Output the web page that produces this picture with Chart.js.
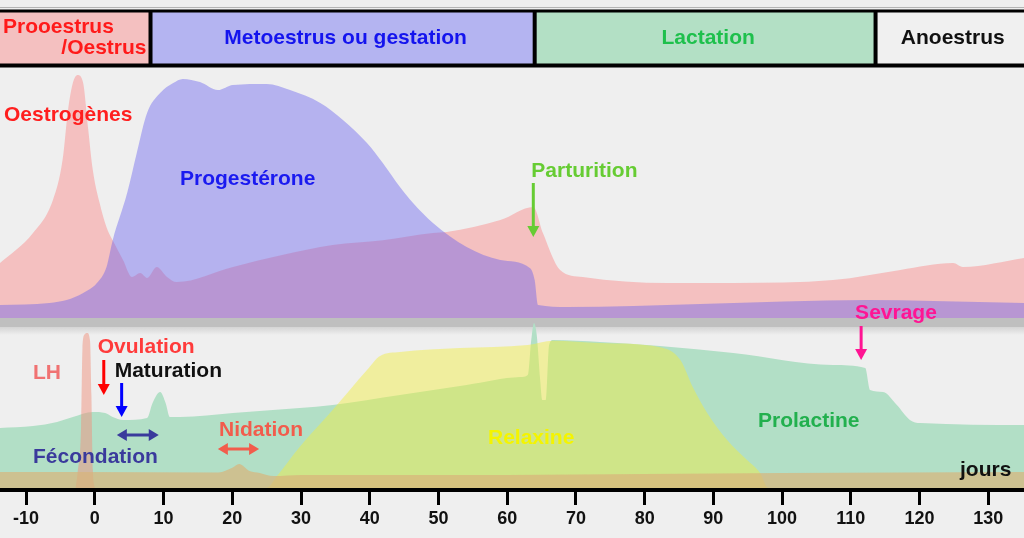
<!DOCTYPE html>
<html>
<head>
<meta charset="utf-8">
<script src="https://cdn.jsdelivr.net/npm/chart.js@4/dist/chart.umd.min.js"></script>
<style>
  html, body { margin: 0; padding: 0; background: #efefef; }
  canvas { display: block; }
</style>
</head>
<body>
<canvas id="cycle" width="1024" height="538"></canvas>
<script>
// phases (header band), in days
const phaseBounds = [-13.8, 8.1, 64.0, 113.6, 135.2];
const phaseFills = ['#f4c0c0', '#b4b4f1', '#b3e0c5', '#f0f0f0'];
const phaseInk = ['#ff1a1a', '#1414ee', '#1ec04c', '#111111'];
const phaseNames = [['Prooestrus', '/Oestrus'], ['Metoestrus ou gestation'], ['Lactation'], ['Anoestrus']];

// upper panel: oestrogènes / progestérone (relative level 0-100)
const oestroDays = [-13.8, -9, -6.1, -4.7, -3.9, -3.2, -2.5, -1.7, -1, -0.3, 0.7, 1.7, 2.6, 4.1, 5.4, 6.6, 7.6, 9, 10.5, 11.9,
  20.1, 27.4, 34.6, 41.9, 49.2, 51.2, 59, 63.8, 65.2, 67.7, 71, 83.3, 92.9, 107.4, 117.2, 124.9, 126.3, 135.2];
const oestroVals = [22.6, 35, 48.6, 65, 85.6, 96.7, 100, 96.7, 78.6, 61, 47.3, 37.4, 32, 23.9, 16.9, 18.5, 16.5, 21, 16.9, 14.8,
  21, 26, 30, 32, 35, 35.4, 40.3, 45.7, 35, 19.8, 16.9, 14.4, 14.4, 15.6, 19.8, 22.6, 21, 24.7];

const progDays = [-13.8, -6.6, -4.1, -1.7, 0.3, 1.7, 2.6, 4.7, 6.1, 7.6, 9.5, 11.4, 12.8, 15.3, 17.9, 20.1, 25, 28.4, 32.8,
  36.1, 39.6, 41.9, 44.4, 46.3, 49.2, 54.1, 59, 63.3, 64, 64.5, 68.7, 88.1, 112.4, 122, 135.2];
const progVals = [5.3, 6.2, 7.4, 10.3, 14.4, 21, 32, 51.4, 67.9, 84.4, 92.6, 96.7, 98.4, 97.1, 93.8, 95.9, 96.3, 93.8, 88.5,
  81.5, 72, 63.8, 53.9, 47.3, 39.1, 29.2, 23.9, 20.6, 15.6, 5.3, 4.5, 5.8, 7.4, 7, 6.2];

// lower panel: prolactine, relaxine, LH and the low baseline band
const prolDays = [-13.8, -9, -5.5, -3.2, -0.3, 1.5, 2.6, 4.1, 7.6, 8.4, 9.5, 10.3, 10.9, 12.4, 20.1, 29.8, 34.6, 44.4, 54.1,
  61.9, 63, 63.5, 63.9, 64.3, 64.8, 65.1, 65.6, 66.1, 66.7, 73.5, 82.2, 92.9, 107.4, 112.1, 112.8, 114.7, 116.7, 118.6, 120.1, 135.2];
const prolVals = [38.7, 40, 42.6, 45.8, 49, 48.4, 45.8, 43.9, 45.2, 54.8, 61.9, 54.8, 45.8, 45.8, 48.4, 51.6, 53.5, 60, 66.5,
  71.6, 72.9, 95.5, 106.5, 98.7, 69.7, 56.8, 56.8, 92.3, 95.5, 94.2, 91.6, 87.1, 79.4, 77.4, 63.2, 61.9, 53.5, 43.9, 41.9, 40.6];

const relaxDays = [-13.8, 25, 26.5, 29.8, 34.6, 39.6, 41.5, 44.4, 53.1, 63, 66.7, 73.5, 82.2, 85.2, 87, 89.1, 92, 94.9, 96.8, 98, 135.2];
const relaxVals = [0, 0, 7.7, 26.5, 50.3, 76.1, 85.2, 87.7, 90.3, 92.3, 95, 93.5, 90.8, 82.6, 65.2, 48.4, 31, 18, 9.7, 0, 0];

const lhDays = [-2.8, -2.5, -2.0, -1.8, -1.5, -1.1, -0.7, -0.5, -0.3, 0.0];
const lhVals = [0, 10, 40, 90, 99, 100, 95, 60, 12, 0];

const bandDays = [-13.8, -3, 18, 20, 21, 22.5, 24, 26, 30, 60, 80, 100, 135.2];
const bandVals = [10.3, 10.3, 10, 13, 15.5, 11, 9.7, 7.7, 8.4, 8.4, 9, 9.7, 10.3];

// events marked with arrows
const eventNames = ['Parturition', 'Sevrage', 'Ovulation', 'Maturation'];
const eventDays = [63.8, 111.5, 1.3, 3.9];
const fecondationDays = [3.2, 9.3];
const nidationDays = [17.9, 23.9];

const FONT = '"Liberation Sans", Arial, Helvetica, sans-serif';

const pts = (days, vals) => days.map((d, i) => ({ x: d, y: vals[i] }));

function area(label, days, vals, color, axis, order) {
  return {
    label, data: pts(days, vals), yAxisID: axis, order,
    backgroundColor: color, borderColor: 'transparent', borderWidth: 1,
    fill: 'origin', pointRadius: 0, cubicInterpolationMode: 'monotone'
  };
}

function downArrow(ctx, x, yTop, yTip, color) {
  ctx.strokeStyle = color;
  ctx.fillStyle = color;
  ctx.lineWidth = 3;
  ctx.beginPath();
  ctx.moveTo(x, yTop);
  ctx.lineTo(x, yTip - 9);
  ctx.stroke();
  ctx.beginPath();
  ctx.moveTo(x - 6, yTip - 11);
  ctx.lineTo(x + 6, yTip - 11);
  ctx.lineTo(x, yTip);
  ctx.closePath();
  ctx.fill();
}

function bothArrow(ctx, x1, x2, y, color) {
  ctx.strokeStyle = color;
  ctx.fillStyle = color;
  ctx.lineWidth = 3;
  ctx.beginPath();
  ctx.moveTo(x1 + 6, y);
  ctx.lineTo(x2 - 6, y);
  ctx.stroke();
  ctx.beginPath();
  ctx.moveTo(x1, y); ctx.lineTo(x1 + 10, y - 6); ctx.lineTo(x1 + 10, y + 6); ctx.closePath();
  ctx.moveTo(x2, y); ctx.lineTo(x2 - 10, y - 6); ctx.lineTo(x2 - 10, y + 6); ctx.closePath();
  ctx.fill();
}

function label(ctx, text, x, y, color, align) {
  ctx.fillStyle = color;
  ctx.textAlign = align || 'left';
  ctx.fillText(text, x, y);
}

const decor = {
  id: 'decor',
  beforeDraw(chart) {
    const { ctx, width, height } = chart;
    ctx.save();
    ctx.fillStyle = '#efefef';
    ctx.fillRect(0, 0, width, height);
    ctx.restore();
  },
  beforeDatasetsDraw(chart) {
    // grey strip between the two panels
    const { ctx, width } = chart;
    const y0 = chart.scales.yUp.getPixelForValue(0);
    ctx.save();
    ctx.fillStyle = '#bfbfbf';
    ctx.fillRect(0, y0, width, 9);
    const g = ctx.createLinearGradient(0, y0 + 9, 0, y0 + 17);
    g.addColorStop(0, '#d4d4d4');
    g.addColorStop(1, '#efefef');
    ctx.fillStyle = g;
    ctx.fillRect(0, y0 + 9, width, 8);
    ctx.restore();
  },
  afterDatasetsDraw(chart) {
    const { ctx, width } = chart;
    const x = chart.scales.x;
    ctx.save();

    // header band
    ctx.strokeStyle = '#b4b4b4';
    ctx.lineWidth = 1;
    ctx.beginPath(); ctx.moveTo(0, 7.5); ctx.lineTo(width, 7.5); ctx.stroke();
    for (let i = 0; i < phaseFills.length; i++) {
      const a = Math.max(0, x.getPixelForValue(phaseBounds[i]));
      const b = Math.min(width, x.getPixelForValue(phaseBounds[i + 1]));
      ctx.fillStyle = phaseFills[i];
      ctx.fillRect(a, 12, b - a, 52);
    }
    ctx.fillStyle = '#000';
    ctx.fillRect(0, 9.5, width, 3);
    ctx.fillRect(0, 63.5, width, 4);
    for (let i = 1; i < phaseFills.length; i++) {
      const p = x.getPixelForValue(phaseBounds[i]);
      ctx.fillRect(p - 2, 10, 4, 56);
    }
    ctx.font = 'bold 21px ' + FONT;
    ctx.textBaseline = 'middle';
    label(ctx, phaseNames[0][0], 3, 27, phaseInk[0]);
    label(ctx, phaseNames[0][1], x.getPixelForValue(phaseBounds[1]) - 4, 48, phaseInk[0], 'right');
    for (let i = 1; i < phaseNames.length; i++) {
      const a = x.getPixelForValue(phaseBounds[i]);
      const b = Math.min(width, x.getPixelForValue(phaseBounds[i + 1]));
      label(ctx, phaseNames[i][0], (a + b) / 2 + 3, 38, phaseInk[i], 'center');
    }

    // hormone names
    label(ctx, 'Oestrogènes', 4, 115, '#ff1f1f');
    label(ctx, 'Progestérone', 180, 179, '#1a1af0');
    label(ctx, 'LH', 33, 373, '#f07272');
    label(ctx, 'Relaxine', 488, 438, '#f4f400');
    label(ctx, 'Prolactine', 758, 421, '#22b04e');
    label(ctx, 'jours', 960, 470, '#111111');

    // events
    const px = eventDays.map(d => x.getPixelForValue(d));
    label(ctx, eventNames[0], px[0] - 2, 171, '#66cc33');
    downArrow(ctx, px[0], 183, 237, '#66cc33');
    label(ctx, eventNames[1], px[1] - 6, 313, '#ff1493');
    downArrow(ctx, px[1], 326, 360, '#ff1493');
    label(ctx, eventNames[2], px[2] - 6, 347, '#ff3b3b');
    downArrow(ctx, px[2], 360, 395, '#ff0000');
    label(ctx, eventNames[3], px[3] - 7, 371, '#111111');
    downArrow(ctx, px[3], 383, 417, '#0000ff');

    bothArrow(ctx, x.getPixelForValue(fecondationDays[0]), x.getPixelForValue(fecondationDays[1]), 435, '#3a3a9c');
    label(ctx, 'Fécondation', 33, 457, '#3a3a9c');
    bothArrow(ctx, x.getPixelForValue(nidationDays[0]), x.getPixelForValue(nidationDays[1]), 449, '#f25c4c');
    label(ctx, 'Nidation', 219, 430, '#f25c4c');

    ctx.restore();
  }
};

new Chart(document.getElementById('cycle'), {
  type: 'line',
  data: {
    datasets: [
      area('Oestrogènes', oestroDays, oestroVals, 'rgb(244,192,192)', 'yUp', 10),
      area('Progestérone', progDays, progVals, 'rgba(100,92,238,0.42)', 'yUp', 9),
      area('Prolactine', prolDays, prolVals, 'rgb(178,223,198)', 'yLow', 8),
      area('Relaxine', relaxDays, relaxVals, 'rgba(241,237,59,0.45)', 'yLow', 7),
      area('LH', lhDays, lhVals, 'rgba(240,145,125,0.5)', 'yLow', 6),
      area('Base', bandDays, bandVals, 'rgba(217,179,122,0.7)', 'yLow', 5)
    ]
  },
  options: {
    responsive: false,
    animation: false,
    events: [],
    layout: { padding: { top: 68, bottom: 5.4, left: 0, right: 0 } },
    scales: {
      x: {
        type: 'linear',
        min: -13.8,
        max: 135.2,
        position: 'bottom',
        border: { display: true, color: '#000', width: 4 },
        grid: { drawOnChartArea: false, drawTicks: true, tickLength: 15, tickWidth: 3, tickColor: '#000' },
        ticks: {
          stepSize: 10, includeBounds: false, autoSkip: false, maxRotation: 0, padding: 3,
          color: '#111', font: { family: FONT, size: 18, weight: 'bold' }
        }
      },
      yUp: { type: 'linear', display: false, min: -70.8, max: 102.9 },
      yLow: { type: 'linear', display: false, min: -1.3, max: 271 }
    },
    plugins: {
      legend: { display: false },
      tooltip: { enabled: false }
    }
  },
  plugins: [decor]
});
</script>
</body>
</html>
